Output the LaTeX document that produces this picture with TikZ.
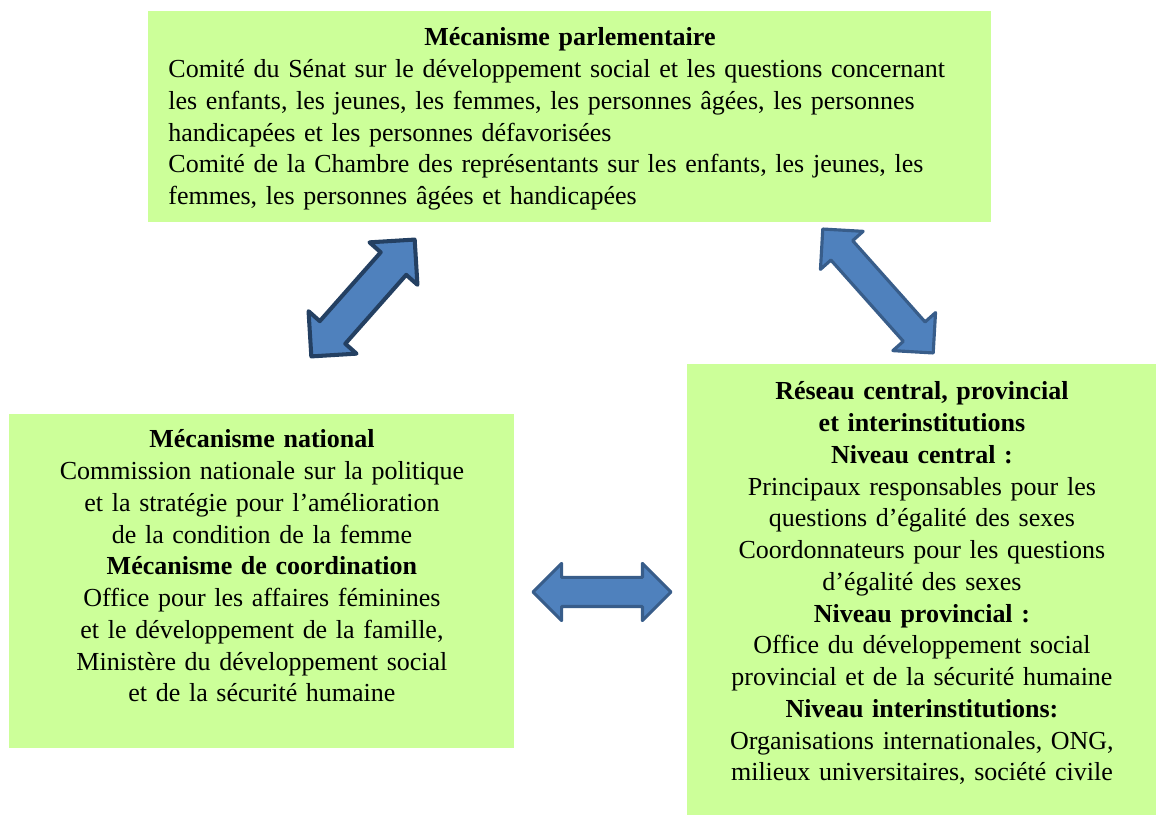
\documentclass[tikz,border=0pt]{standalone}
\usepackage{fontspec}
\setmainfont{Liberation Serif}
\usetikzlibrary{shapes.arrows,positioning}
\definecolor{mecgreen}{RGB}{204,255,153}
\definecolor{mecblue}{RGB}{79,129,189}
\definecolor{mecdarkblue}{RGB}{56,93,138}
\definecolor{mecnavy}{RGB}{36,64,98}
\newlength\px
\setlength\px{0.4444pt}
\tikzstyle{greenbox} = [rectangle, fill=mecgreen, draw=none, inner sep=0pt, anchor=north west]
\tikzstyle{boxtext} = [inner sep=0pt, anchor=base, font=\fontsize{11.55}{14.1}\selectfont]
\tikzstyle{blockarrow} = [double arrow, double arrow tip angle=90, inner xsep=0pt, fill=mecblue, draw=mecdarkblue, line width=1.4pt, line join=round]

\begin{document}
\begin{tikzpicture}[x=0.4444pt, y=-0.4444pt]
\useasboundingbox (0,0) rectangle (1157,816);

% Boxes
\node (parl) [greenbox, minimum width=843\px, minimum height=211\px] at (148,11) {};
\node (natl) [greenbox, minimum width=505\px, minimum height=334\px] at (9,414) {};
\node (network) [greenbox, minimum width=469\px, minimum height=451\px] at (687,364) {};

% Texts
\node (parltext) [boxtext, text width=803\px, align=left] at ([yshift=-35\px]parl.north) {%
{\centering\textbf{Mécanisme parlementaire}\par}
Comité du Sénat sur le développement social et les questions concernant\\
les enfants, les jeunes, les femmes, les personnes âgées, les personnes\\
handicapées et les personnes défavorisées\\
Comité de la Chambre des représentants sur les enfants, les jeunes, les\\
femmes, les personnes âgées et handicapées};

\node (natltext) [boxtext, text width=485\px, align=center] at ([yshift=-34\px]natl.north) {%
\textbf{Mécanisme national}\\
Commission nationale sur la politique\\
et la stratégie pour l’amélioration\\
de la condition de la femme\\
\textbf{Mécanisme de coordination}\\
Office pour les affaires féminines\\
et le développement de la famille,\\
Ministère du développement social\\
et de la sécurité humaine};

\node (networktext) [boxtext, text width=449\px, align=center] at ([yshift=-36\px]network.north) {%
\textbf{Réseau central, provincial}\\
\textbf{et interinstitutions}\\
\textbf{Niveau central :}\\
Principaux responsables pour les\\
questions d’égalité des sexes\\
Coordonnateurs pour les questions\\
d’égalité des sexes\\
\textbf{Niveau provincial :}\\
Office du développement social\\
provincial et de la sécurité humaine\\
\textbf{Niveau interinstitutions:}\\
Organisations internationales, ONG,\\
milieux universitaires, société civile};

% Arrows
\node (parlnatl) [blockarrow, draw=mecnavy, line width=1.8pt, minimum height=156\px, inner ysep=15\px, double arrow head extend=15\px, rotate=48.5] at (363,298) {};
\node (parlnetwork) [blockarrow, minimum height=166\px, inner ysep=13\px, double arrow head extend=14\px, rotate=-48.3] at (878,291) {};
\node (natlnetwork) [blockarrow, minimum height=138\px, inner ysep=13\px, double arrow head extend=14\px] at (602,592) {};
\end{tikzpicture}
\end{document}
